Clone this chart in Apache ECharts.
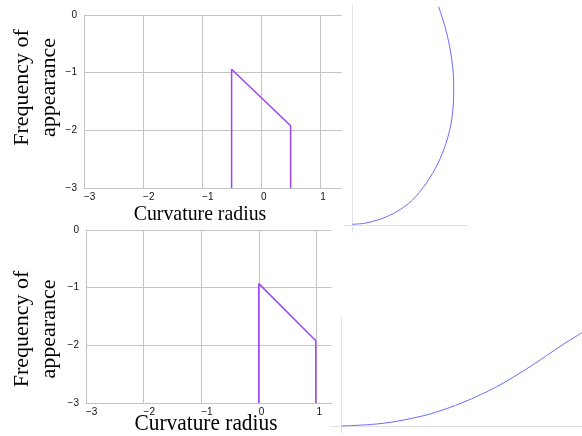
<!DOCTYPE html>
<html>
<head>
<meta charset="utf-8">
<script src="https://cdn.jsdelivr.net/npm/echarts@6/dist/echarts.min.js"></script>
<style>
html,body{margin:0;padding:0;background:#fff;}
#chart{width:582px;height:436px;}
</style>
</head>
<body>
<div id="chart"></div>
<script>
// Top-left chart
var topX = [-0.5, -0.5, 0.5, 0.5];
var topY = [-3, -0.94, -1.92, -3];
// Bottom-left chart
var botX = [0, 0, 0.99, 0.99];
var botY = [-3, -0.93, -1.92, -3];
// Tick labels
var xTicks = [-3, -2, -1, 0, 1];
var yTicks = [0, -1, -2, -3];
// Right curves (arbitrary units)
var curve1X = [0.3, 13, 30, 45, 60, 74, 86, 94, 99.7, 101.7, 101, 97.7, 93, 86.7];
var curve1Y = [0.7, 1.8, 6.5, 13.5, 24.5, 41.5, 61.7, 81.7, 105, 131.7, 155, 178.3, 198.3, 218.3];
var curve2X = [0, 31.6, 55, 88.3, 121.6, 155, 188.3, 221.6, 240.3];
var curve2Y = [0, 1.7, 4.7, 12, 23.7, 39.3, 59.3, 81.7, 93.3];

var yName = 'Frequency of\nappearance';
var xName = 'Curvature radius';

function zip(a, b) { return a.map(function (v, i) { return [v, b[i]]; }); }

var chart = echarts.init(document.getElementById('chart'), null, {renderer: 'canvas'});

var gridColor = '#c4c4c4';
var labelFont = {fontFamily: '"Liberation Sans", Arial, sans-serif', fontSize: 10, color: '#111'};

function leftX(gi, max) {
  return {
    type: 'value', gridIndex: gi, min: -3, max: max, interval: 1,
    axisLine: {show: true, onZero: false, lineStyle: {color: gridColor}},
    axisTick: {show: false},
    axisLabel: Object.assign({margin: 4, align: 'left', showMaxLabel: false,
      formatter: function (v) { return xTicks.indexOf(v) >= 0 ? String(v).replace('-', '\u2212') : ''; }}, labelFont),
    splitLine: {show: true, showMaxLine: false, lineStyle: {color: gridColor, width: 1}}
  };
}
function leftY(gi) {
  return {
    type: 'value', gridIndex: gi, min: -3, max: 0, interval: 1,
    axisLine: {show: true, onZero: false, lineStyle: {color: gridColor}},
    axisTick: {show: false},
    axisLabel: Object.assign({margin: 7, padding: [0, 0, 5, 0],
      formatter: function (v) { return yTicks.indexOf(v) >= 0 ? String(v).replace('-', '\u2212') : ''; }}, labelFont),
    splitLine: {show: true, lineStyle: {color: gridColor, width: 1}}
  };
}
function rightAxis(gi, min, max) {
  return {
    type: 'value', gridIndex: gi, min: min, max: max,
    axisLine: {show: true, onZero: true, lineStyle: {color: '#e2e2e2', width: 1}},
    axisTick: {show: false}, axisLabel: {show: false}, splitLine: {show: false}
  };
}

var lineColor = '#9b45f6';
var curveColor = '#6b6bff';

function textEl(text, x, y, size, rot, sx, lh) {
  return {
    type: 'text', x: x, y: y, rotation: rot, scaleX: sx, silent: true,
    style: {
      text: text, fill: '#000',
      font: size + 'px "Liberation Serif", "Times New Roman", serif',
      align: 'center', verticalAlign: 'middle',
      textAlign: 'center', textVerticalAlign: 'middle',
      lineHeight: lh
    }
  };
}

chart.setOption({
  animation: false,
  backgroundColor: '#fff',
  grid: [
    {left: 84, top: 15, width: 258, height: 173},
    {left: 86, top: 230, width: 245.7, height: 173},
    {left: 344, top: 5, width: 124, height: 227},
    {left: 330, top: 318, width: 252, height: 115}
  ],
  xAxis: [leftX(0, 1.37), leftX(1, 1.266), rightAxis(2, -8, 116), rightAxis(3, -11.7, 240.3)],
  yAxis: [leftY(0), leftY(1), rightAxis(2, -7, 220), rightAxis(3, -7, 108)],
  series: [
    {type: 'line', xAxisIndex: 0, yAxisIndex: 0, data: zip(topX, topY), symbol: 'none',
     lineStyle: {color: lineColor, width: 1.5}},
    {type: 'line', xAxisIndex: 1, yAxisIndex: 1, data: zip(botX, botY), symbol: 'none',
     lineStyle: {color: lineColor, width: 1.5}},
    {type: 'line', xAxisIndex: 2, yAxisIndex: 2, data: zip(curve1X, curve1Y), symbol: 'none',
     smooth: 0.3,
     lineStyle: {color: curveColor, width: 1}},
    {type: 'line', xAxisIndex: 3, yAxisIndex: 3, data: zip(curve2X, curve2Y), symbol: 'none',
     smooth: 0.3,
     lineStyle: {color: curveColor, width: 1}}
  ],
  graphic: [
    textEl(yName, 35.5, 87.5, 22, Math.PI / 2, 1, 27),
    textEl(yName, 35.5, 329, 22, Math.PI / 2, 1, 27),
    textEl(xName, 200, 214, 22, 0, 0.9, 26),
    textEl(xName, 206, 423.5, 24, 0, 0.89, 28)
  ]
});
</script>
</body>
</html>
